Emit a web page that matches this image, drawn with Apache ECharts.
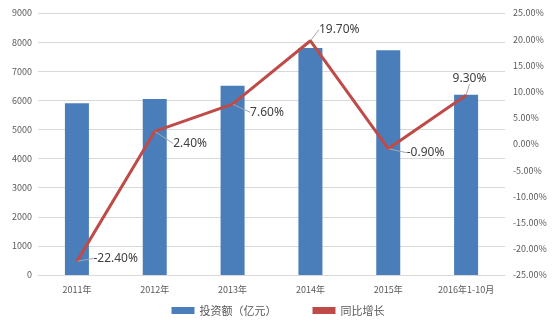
<!DOCTYPE html>
<html><head><meta charset="utf-8">
<script src="https://cdn.jsdelivr.net/npm/echarts@6/dist/echarts.min.js"></script>
<style>html,body{margin:0;padding:0;background:#fff}#c{width:556px;height:322px}</style>
</head><body><div id="c"></div>
<script>
const categories = ['2011年','2012年','2013年','2014年','2015年','2016年1-10月'];
const investment = [5900, 6050, 6500, 7800, 7720, 6190];
const growth = [-22.4, 2.4, 7.6, 19.7, -0.9, 9.3];
const labelShift = [[11,-3],[13,12],[12,8],[3,-11],[13,4],[-19,-17]];

const chart = echarts.init(document.getElementById('c'));
const font = '"Noto Sans CJK SC", "Noto Sans", sans-serif';
chart.setOption({
  animation: false,
  textStyle: {fontFamily: font},
  grid: {left: 38, right: 51, top: 13, bottom: 47},
  legend: {
    bottom: 1, left: 'center', itemWidth: 23, itemHeight: 7, itemGap: 36,
    textStyle: {fontSize: 11, color: '#595959', fontFamily: font},
    data: [{name: '投资额（亿元）', icon: 'rect'}, {name: '同比增长', icon: 'rect'}]
  },
  xAxis: {
    type: 'category', data: categories,
    axisLine: {lineStyle: {color: '#d9d9d9'}}, axisTick: {show: false},
    axisLabel: {fontSize: 9, color: '#595959', margin: 10}
  },
  yAxis: [
    {type: 'value', min: 0, max: 9000, interval: 1000,
     axisLine: {show: false}, axisTick: {show: false},
     splitLine: {lineStyle: {color: '#d9d9d9'}},
     axisLabel: {fontSize: 9, color: '#595959', margin: 6, formatter: v => String(v)}},
    {type: 'value', min: -25, max: 25, interval: 5,
     axisLine: {show: false}, axisTick: {show: false}, splitLine: {show: false},
     axisLabel: {fontSize: 9, color: '#595959', margin: 8, formatter: v => v.toFixed(2) + '%'}}
  ],
  series: [
    {name: '投资额（亿元）', type: 'bar', data: investment, barWidth: 24,
     itemStyle: {color: '#4a7ebb'}},
    {name: '同比增长', type: 'line', yAxisIndex: 1, data: growth,
     showSymbol: true, symbol: 'circle', symbolSize: 1,
     lineStyle: {color: '#be4b48', width: 3}, itemStyle: {color: '#be4b48'},
     label: {show: true, position: 'right', distance: 5, fontSize: 12, color: '#404040',
             fontFamily: '"Noto Sans", sans-serif',
             formatter: p => p.value.toFixed(2) + '%'},
     labelLine: {show: true, lineStyle: {color: '#a6a6a6', width: 1}},
     labelLayout: p => ({dx: labelShift[p.dataIndex][0], dy: labelShift[p.dataIndex][1]}),
     z: 5}
  ]
});
</script></body></html>
